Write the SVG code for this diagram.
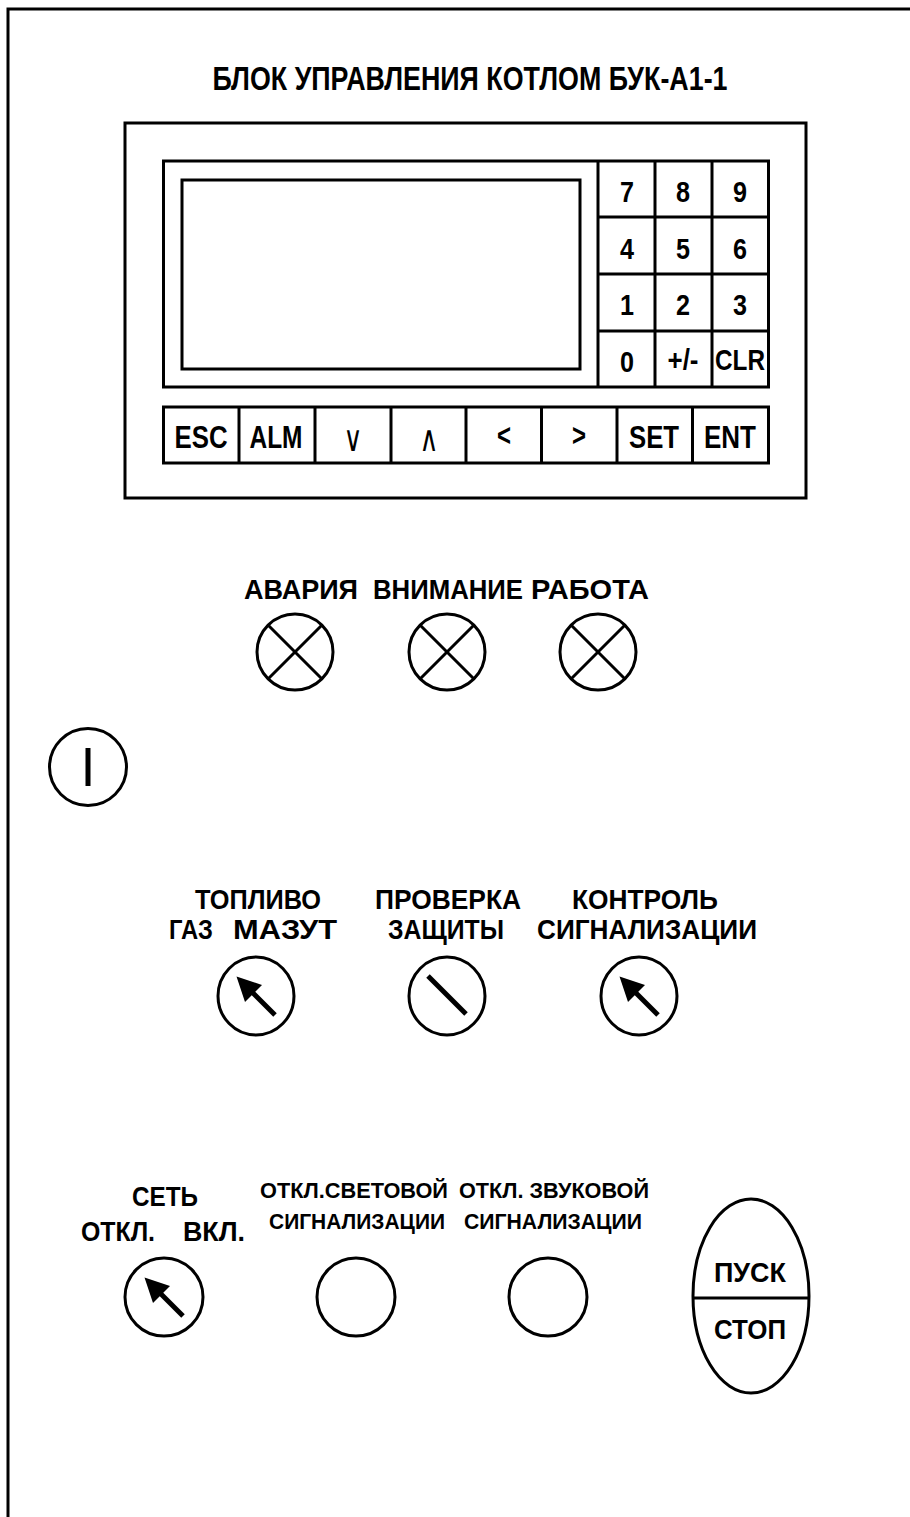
<svg xmlns="http://www.w3.org/2000/svg" width="910" height="1517" viewBox="0 0 910 1517">
<style>
.ln{fill:none;stroke:#000;stroke-width:3}
.bar{stroke:#000;stroke-width:5;stroke-linecap:butt}
text{font-family:"Liberation Sans",Arial,sans-serif;font-weight:bold;fill:#000;text-anchor:middle}
.title{font-size:33px}
.k{font-size:30px}
.b{font-size:32px}
.lab{font-size:28px}
.sm{font-size:22px}
.sym{font-family:"DejaVu Sans",sans-serif;font-weight:normal;font-size:36px}
</style>
<defs>
<g id="arrow"><line x1="-4" y1="-4" x2="19" y2="19" class="bar"/><polygon points="-19.5,-19.5 6,-11 -11,6" fill="#000"/></g>
<g id="lamp"><circle r="38" class="ln"/><line x1="-27" y1="-27" x2="27" y2="27" class="ln"/><line x1="27" y1="-27" x2="-27" y2="27" class="ln"/></g>
</defs>
<rect width="910" height="1517" fill="#fff"/>
<g id="frame"><polyline points="8,1517 8,9 910,9" class="ln"/></g>
<g id="title"><text class="title" x="470" y="90" textLength="515" lengthAdjust="spacingAndGlyphs">БЛОК УПРАВЛЕНИЯ КОТЛОМ БУК-А1-1</text></g>
<g id="panel">
<rect x="125" y="123" width="681" height="375" class="ln"/>
<rect x="163.5" y="161" width="605" height="226" class="ln"/>
</g>
<g id="screen"><rect x="182" y="180" width="398" height="189" class="ln"/></g>
<g id="keypad">
<line x1="598" y1="161" x2="598" y2="387" class="ln"/>
<line x1="655" y1="161" x2="655" y2="387" class="ln"/>
<line x1="712" y1="161" x2="712" y2="387" class="ln"/>
<line x1="598" y1="217" x2="768.5" y2="217" class="ln"/>
<line x1="598" y1="274" x2="768.5" y2="274" class="ln"/>
<line x1="598" y1="331" x2="768.5" y2="331" class="ln"/>
<text class="k" x="627" y="202" textLength="14" lengthAdjust="spacingAndGlyphs">7</text>
<text class="k" x="683" y="202" textLength="14" lengthAdjust="spacingAndGlyphs">8</text>
<text class="k" x="740" y="202" textLength="14" lengthAdjust="spacingAndGlyphs">9</text>
<text class="k" x="627" y="259" textLength="14" lengthAdjust="spacingAndGlyphs">4</text>
<text class="k" x="683" y="259" textLength="14" lengthAdjust="spacingAndGlyphs">5</text>
<text class="k" x="740" y="259" textLength="14" lengthAdjust="spacingAndGlyphs">6</text>
<text class="k" x="627" y="315" textLength="14" lengthAdjust="spacingAndGlyphs">1</text>
<text class="k" x="683" y="315" textLength="14" lengthAdjust="spacingAndGlyphs">2</text>
<text class="k" x="740" y="315" textLength="14" lengthAdjust="spacingAndGlyphs">3</text>
<text class="k" x="627" y="372" textLength="14" lengthAdjust="spacingAndGlyphs">0</text>
<text class="k" x="683" y="370" textLength="31" lengthAdjust="spacingAndGlyphs">+/-</text>
<text class="k" x="740" y="370" textLength="50" lengthAdjust="spacingAndGlyphs">CLR</text>
</g>
<g id="function-keys">
<rect x="163.5" y="407" width="605" height="56" class="ln"/>
<line x1="239" y1="407" x2="239" y2="463" class="ln"/>
<line x1="315" y1="407" x2="315" y2="463" class="ln"/>
<line x1="391" y1="407" x2="391" y2="463" class="ln"/>
<line x1="466" y1="407" x2="466" y2="463" class="ln"/>
<line x1="541.5" y1="407" x2="541.5" y2="463" class="ln"/>
<line x1="617" y1="407" x2="617" y2="463" class="ln"/>
<line x1="692.5" y1="407" x2="692.5" y2="463" class="ln"/>
<text class="b" x="201" y="448" textLength="53" lengthAdjust="spacingAndGlyphs">ESC</text>
<text class="b" x="276" y="448" textLength="53" lengthAdjust="spacingAndGlyphs">ALM</text>
<text class="sym" x="353" y="451" textLength="19" lengthAdjust="spacingAndGlyphs">∨</text>
<text class="sym" x="429" y="451" textLength="19" lengthAdjust="spacingAndGlyphs">∧</text>
<text class="b" x="504" y="446" font-size="27" textLength="14" lengthAdjust="spacingAndGlyphs">&lt;</text>
<text class="b" x="579" y="446" font-size="27" textLength="14" lengthAdjust="spacingAndGlyphs">&gt;</text>
<text class="b" x="654" y="448" textLength="50" lengthAdjust="spacingAndGlyphs">SET</text>
<text class="b" x="730" y="448" textLength="52" lengthAdjust="spacingAndGlyphs">ENT</text>
</g>
<g id="lamp-avaria"><text class="lab" x="301" y="599" textLength="114" lengthAdjust="spacingAndGlyphs">АВАРИЯ</text><use href="#lamp" x="295" y="652"/></g>
<g id="lamp-vnimanie"><text class="lab" x="448" y="599" textLength="150" lengthAdjust="spacingAndGlyphs">ВНИМАНИЕ</text><use href="#lamp" x="447" y="652"/></g>
<g id="lamp-rabota"><text class="lab" x="590" y="599" textLength="118" lengthAdjust="spacingAndGlyphs">РАБОТА</text><use href="#lamp" x="598" y="652"/></g>
<g id="power-indicator"><circle cx="88" cy="767" r="38.5" class="ln"/><line x1="88" y1="748" x2="88" y2="786" class="bar"/></g>
<g id="switch-fuel">
<text class="lab" x="258" y="909" textLength="126" lengthAdjust="spacingAndGlyphs">ТОПЛИВО</text>
<text class="lab" x="191" y="939" textLength="44" lengthAdjust="spacingAndGlyphs">ГАЗ</text>
<text class="lab" x="285" y="939" textLength="104" lengthAdjust="spacingAndGlyphs">МАЗУТ</text>
<ellipse cx="256" cy="996" rx="38" ry="39" class="ln"/>
<use href="#arrow" x="256" y="996"/>
</g>
<g id="switch-protection-test">
<text class="lab" x="448" y="909" textLength="146" lengthAdjust="spacingAndGlyphs">ПРОВЕРКА</text>
<text class="lab" x="446" y="939" textLength="116" lengthAdjust="spacingAndGlyphs">ЗАЩИТЫ</text>
<ellipse cx="447" cy="996" rx="38" ry="39" class="ln"/>
<line x1="428" y1="976" x2="466" y2="1014" class="bar"/>
</g>
<g id="switch-alarm-control">
<text class="lab" x="645" y="909" textLength="146" lengthAdjust="spacingAndGlyphs">КОНТРОЛЬ</text>
<text class="lab" x="647" y="939" textLength="220" lengthAdjust="spacingAndGlyphs">СИГНАЛИЗАЦИИ</text>
<ellipse cx="639" cy="996" rx="38" ry="39" class="ln"/>
<use href="#arrow" x="639" y="996"/>
</g>
<g id="switch-network">
<text class="lab" x="165" y="1206" textLength="66" lengthAdjust="spacingAndGlyphs">СЕТЬ</text>
<text class="lab" x="118" y="1241" textLength="74" lengthAdjust="spacingAndGlyphs">ОТКЛ.</text>
<text class="lab" x="214" y="1241" textLength="62" lengthAdjust="spacingAndGlyphs">ВКЛ.</text>
<ellipse cx="164" cy="1297" rx="39" ry="39" class="ln"/>
<use href="#arrow" x="164" y="1297"/>
</g>
<g id="button-light-off">
<text class="sm" x="354" y="1198" textLength="188" lengthAdjust="spacingAndGlyphs">ОТКЛ.СВЕТОВОЙ</text>
<text class="sm" x="357" y="1229" textLength="176" lengthAdjust="spacingAndGlyphs">СИГНАЛИЗАЦИИ</text>
<ellipse cx="356" cy="1297" rx="39" ry="39" class="ln"/>
</g>
<g id="button-sound-off">
<text class="sm" x="554" y="1198" textLength="190" lengthAdjust="spacingAndGlyphs">ОТКЛ. ЗВУКОВОЙ</text>
<text class="sm" x="553" y="1229" textLength="178" lengthAdjust="spacingAndGlyphs">СИГНАЛИЗАЦИИ</text>
<ellipse cx="548" cy="1297" rx="39" ry="39" class="ln"/>
</g>
<g id="start-stop">
<ellipse cx="751" cy="1296" rx="58" ry="97" class="ln"/>
<line x1="693" y1="1298" x2="809" y2="1298" class="ln"/>
<text class="lab" x="750" y="1282" textLength="72" lengthAdjust="spacingAndGlyphs">ПУСК</text>
<text class="lab" x="750" y="1339" textLength="72" lengthAdjust="spacingAndGlyphs">СТОП</text>
</g>
<g id="connectors"/>
</svg>
